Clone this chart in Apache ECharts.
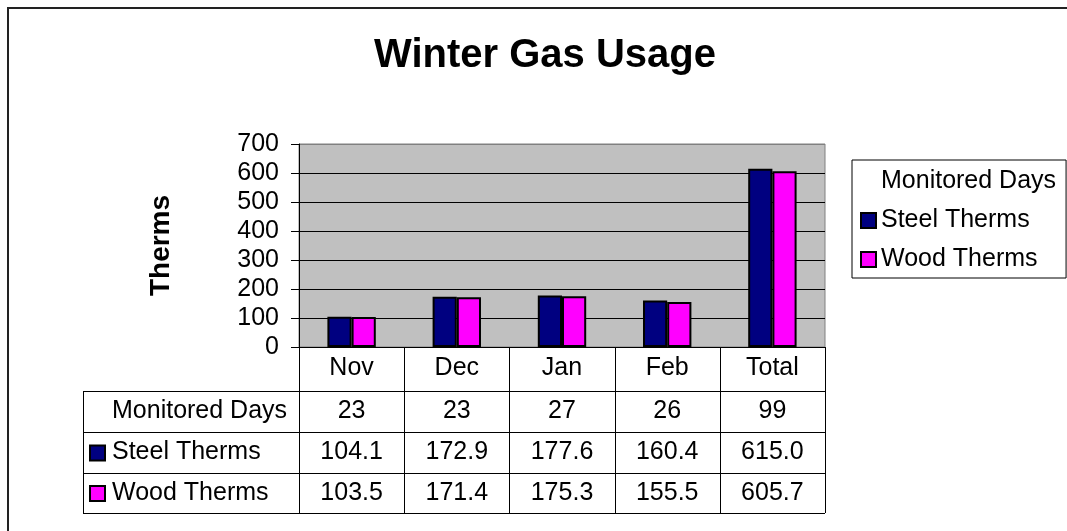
<!DOCTYPE html>
<html>
<head>
<meta charset="UTF-8">
<script src="https://cdn.jsdelivr.net/npm/echarts@6/dist/echarts.min.js"></script>
<title>Winter Gas Usage</title>
<style>
  html, body { margin: 0; padding: 0; background: #fff; }
  #main { width: 1067px; height: 531px; }
</style>
</head>
<body>
<div id="main"></div>
<script type="text/javascript">
    // chart data
    var categories    = ['Nov', 'Dec', 'Jan', 'Feb', 'Total'];
    var monitoredDays = [23, 23, 27, 26, 99];
    var steelTherms   = [104.1, 172.9, 177.6, 160.4, 615.0];
    var woodTherms    = [103.5, 171.4, 175.3, 155.5, 605.7];

    var FONT = 'Liberation Sans, Arial, sans-serif';
    var STEEL = '#000080', WOOD = '#ff00ff';
    var TXT = 25;

    // plot area in pixels
    var gridLeft = 299, gridRight = 825, gridTop = 144, gridBottom = 347;
    // data table rows under the category row
    var rowLines = [391, 432, 473, 513];
    var tableLeft = 83;

    var myChart = echarts.init(document.getElementById('main'));

    myChart.setOption({
        animation: false,
        title: {
            text: 'Winter Gas Usage',
            left: 369,
            top: 31,
            textStyle: { fontFamily: FONT, fontSize: 40, fontWeight: 'bold', color: '#000' }
        },
        legend: {
            orient: 'vertical',
            left: 852,
            top: 160,
            backgroundColor: '#fff',
            borderColor: '#000',
            borderWidth: 1,
            padding: [9, 10, 6, 8],
            itemWidth: 15,
            itemHeight: 15,
            itemGap: 14,
            selectedMode: false,
            textStyle: { fontFamily: FONT, fontSize: TXT, color: '#000' },
            data: [
                { name: 'Monitored Days', icon: 'rect', itemStyle: { color: 'rgba(0,0,0,0)', borderWidth: 0 } },
                { name: 'Steel Therms', icon: 'rect', itemStyle: { color: STEEL, borderColor: '#000', borderWidth: 2 } },
                { name: 'Wood Therms', icon: 'rect', itemStyle: { color: WOOD, borderColor: '#000', borderWidth: 2 } }
            ]
        },
        grid: {
            left: gridLeft,
            top: gridTop,
            width: gridRight - gridLeft,
            height: gridBottom - gridTop,
            show: true,
            backgroundColor: '#c0c0c0',
            borderColor: '#808080',
            borderWidth: 1
        },
        xAxis: {
            type: 'category',
            data: categories,
            axisLine: { lineStyle: { color: '#000', width: 1 } },
            axisTick: { show: false },
            axisLabel: { fontFamily: FONT, fontSize: TXT, color: '#000', margin: 9 }
        },
        yAxis: {
            type: 'value',
            min: 0,
            max: 700,
            interval: 100,
            name: 'Therms',
            nameLocation: 'middle',
            nameRotate: 90,
            nameGap: 124,
            nameTextStyle: { fontFamily: FONT, fontSize: 28, fontWeight: 'bold', color: '#000' },
            axisLine: { show: true, lineStyle: { color: '#000', width: 1 } },
            axisTick: { show: true, length: 8, lineStyle: { color: '#000' } },
            axisLabel: { fontFamily: FONT, fontSize: TXT, color: '#000', margin: 20 },
            splitLine: {
                show: true,
                lineStyle: { color: ['#000', '#000', '#000', '#000', '#000', '#000', '#000', '#808080'], width: 1 }
            }
        },
        series: [
            {
                name: 'Monitored Days',
                type: 'line',
                data: [],
                showSymbol: false
            },
            {
                name: 'Steel Therms',
                type: 'bar',
                data: steelTherms,
                barGap: '0%',
                barCategoryGap: '54%',
                itemStyle: { color: STEEL, borderColor: '#000', borderWidth: 2 }
            },
            {
                name: 'Wood Therms',
                type: 'bar',
                data: woodTherms,
                itemStyle: { color: WOOD, borderColor: '#000', borderWidth: 2 }
            }
        ]
    });

    // data table drawn under the axis
    function buildTable() {
        var els = [];
        var n = categories.length;
        var colW = (gridRight - gridLeft) / n;
        var lineStyle = { stroke: '#000', lineWidth: 1 };

        // outer frame of the whole chart
        els.push({ type: 'rect', shape: { x: 8, y: 8, width: 1200, height: 700 },
            style: { fill: 'none', stroke: '#222', lineWidth: 2 } });

        // horizontal rules
        for (var r = 0; r < rowLines.length; r++) {
            els.push({ type: 'line', shape: { x1: tableLeft, y1: rowLines[r] + 0.5, x2: gridRight, y2: rowLines[r] + 0.5 }, style: lineStyle });
        }
        // left edge of the row headers
        els.push({ type: 'line', shape: { x1: tableLeft + 0.5, y1: rowLines[0], x2: tableLeft + 0.5, y2: rowLines[3] }, style: lineStyle });
        // column separators
        for (var c = 0; c <= n; c++) {
            var x = Math.round(gridLeft + c * colW) + 0.5;
            els.push({ type: 'line', shape: { x1: x, y1: gridBottom, x2: x, y2: rowLines[3] }, style: lineStyle });
        }

        var rows = [
            { label: 'Monitored Days', values: monitoredDays.map(function (v) { return String(v); }), color: null },
            { label: 'Steel Therms', values: steelTherms.map(function (v) { return v.toFixed(1); }), color: STEEL },
            { label: 'Wood Therms', values: woodTherms.map(function (v) { return v.toFixed(1); }), color: WOOD }
        ];
        for (var i = 0; i < rows.length; i++) {
            var cy = (rowLines[i] + rowLines[i + 1]) / 2;
            if (rows[i].color) {
                els.push({ type: 'rect', shape: { x: 90, y: cy - 7, width: 15, height: 15 },
                    style: { fill: rows[i].color, stroke: '#000', lineWidth: 2 } });
            }
            els.push({ type: 'text', x: 112, y: cy,
                style: { text: rows[i].label, font: TXT + 'px ' + FONT, fill: '#000', align: 'left', verticalAlign: 'middle' } });
            for (var j = 0; j < n; j++) {
                var cx = myChart.convertToPixel({ xAxisIndex: 0 }, categories[j]);
                els.push({ type: 'text', x: cx, y: cy,
                    style: { text: rows[i].values[j], font: TXT + 'px ' + FONT, fill: '#000', align: 'center', verticalAlign: 'middle' } });
            }
        }
        return els;
    }

    myChart.setOption({ graphic: buildTable() });
</script>
</body>
</html>
